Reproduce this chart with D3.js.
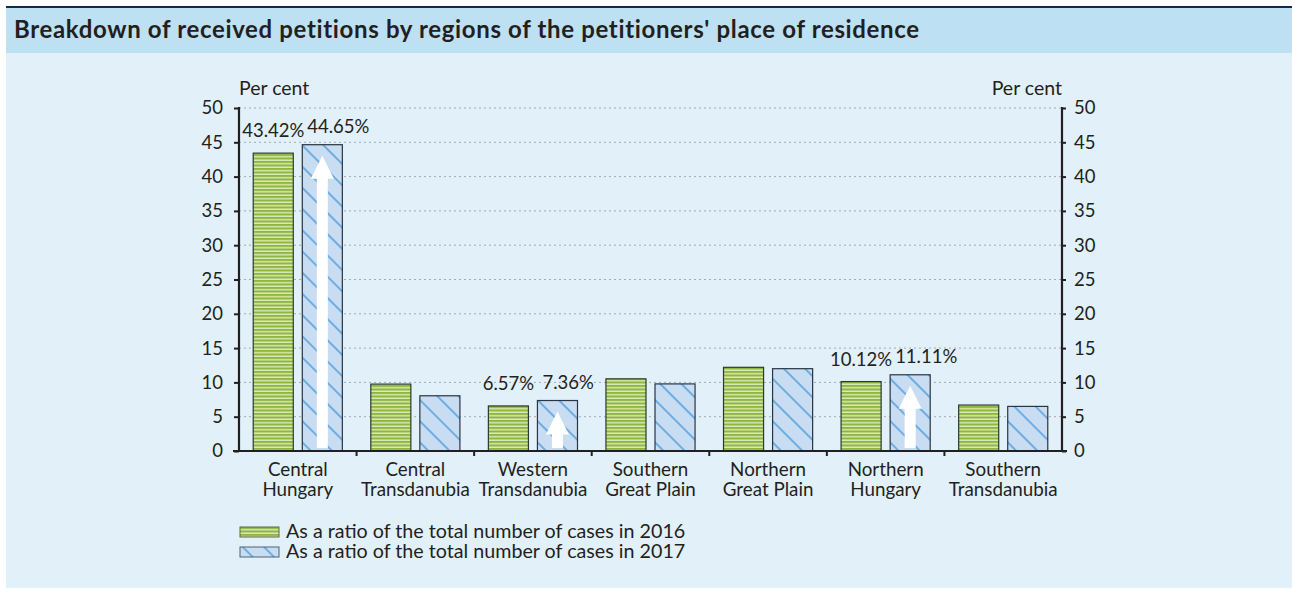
<!DOCTYPE html>
<html>
<head>
<meta charset="utf-8">
<script src="https://cdn.jsdelivr.net/npm/d3@7"></script>
<style>
  body { margin: 0; background: #fff; }
  svg text { font-family: Lato, "Noto Sans", sans-serif; fill: #231f20; }
</style>
</head>
<body>
<div id="chart"></div>
<script>
// DATA
var regions = ["Central Hungary", "Central Transdanubia", "Western Transdanubia",
    "Southern Great Plain", "Northern Great Plain", "Northern Hungary", "Southern Transdanubia"];
var share2016 = [43.42, 9.75, 6.57, 10.52, 12.2, 10.12, 6.7];
var share2017 = [44.65, 8.05, 7.36, 9.78, 12.0, 11.11, 6.5];
// regions where the values are written out and the growth arrow is drawn
var highlighted = ["Central Hungary", "Western Transdanubia", "Northern Hungary"];
var yTicks = [0, 5, 10, 15, 20, 25, 30, 35, 40, 45, 50];
var seriesNames = ["As a ratio of the total number of cases in 2016",
    "As a ratio of the total number of cases in 2017"];

var svgWidth = 1292, svgHeight = 592;
var plot = { left: 239, right: 1062, top: 108, bottom: 451 };

var svg = d3.select("#chart").append("svg")
    .attr("width", svgWidth)
    .attr("height", svgHeight);

// patterns
var defs = svg.append("defs");
var green = defs.append("pattern")
    .attr("id", "greenStripes")
    .attr("patternUnits", "userSpaceOnUse")
    .attr("width", 8).attr("height", 3.5);
green.append("rect").attr("width", 8).attr("height", 3.5).attr("fill", "#dbe9b6");
green.append("rect").attr("width", 8).attr("height", 2).attr("fill", "#8db63f");

var blue = defs.append("pattern")
    .attr("id", "blueHatch")
    .attr("patternUnits", "userSpaceOnUse")
    .attr("width", 15).attr("height", 15)
    .attr("patternTransform", "rotate(-45)");
blue.append("rect").attr("width", 15).attr("height", 15).attr("fill", "#c9ddf2");
blue.append("line").attr("x1", 2).attr("x2", 2).attr("y1", 0).attr("y2", 15)
    .attr("stroke", "#6dade2").attr("stroke-width", 2);

// panel background
svg.append("rect").attr("x", 6).attr("y", 8).attr("width", svgWidth - 6).attr("height", 580)
    .attr("fill", "#e2f0f9");
svg.append("rect").attr("x", 6).attr("y", 8).attr("width", svgWidth - 6).attr("height", 45)
    .attr("fill", "#bde0f2");
svg.append("rect").attr("x", 6).attr("y", 6).attr("width", svgWidth - 6).attr("height", 2)
    .attr("fill", "#0e2a55");
svg.append("text")
    .attr("x", 14).attr("y", 38)
    .attr("font-size", 24).attr("font-weight", "bold")
    .attr("letter-spacing", 0.65)
    .text("Breakdown of received petitions by regions of the petitioners' place of residence");

// scales
var x0 = d3.scaleBand().domain(regions).range([plot.left, plot.right]);
var x1 = d3.scaleBand().domain(["2016", "2017"]).range([0, x0.bandwidth()])
    .paddingInner(9 / 49).paddingOuter(0.29);
var y = d3.scaleLinear().domain([0, 50]).range([plot.bottom, plot.top]);

// grid
svg.append("g").selectAll("line")
    .data(yTicks.filter(d => d > 0))
    .join("line")
    .attr("x1", plot.left).attr("x2", plot.right)
    .attr("y1", d => y(d)).attr("y2", d => y(d))
    .attr("stroke", "#a6a9ad").attr("stroke-width", 1)
    .attr("stroke-dasharray", "2,3");

// axes
var leftAxis = d3.axisLeft(y).tickValues(yTicks).tickSize(5).tickPadding(11);
var rightAxis = d3.axisRight(y).tickValues(yTicks).tickSize(4).tickPadding(8);
var gl = svg.append("g").attr("transform", `translate(${plot.left},0)`).call(leftAxis);
var gr = svg.append("g").attr("transform", `translate(${plot.right},0)`).call(rightAxis);
[gl, gr].forEach(function (g) {
    g.select(".domain").remove();
    g.selectAll(".tick line").attr("stroke", "#231f20").attr("stroke-width", 2);
    g.selectAll(".tick text").attr("font-size", 18.5).attr("font-family", null).attr("fill", "#231f20");
});
svg.append("line").attr("x1", plot.left).attr("x2", plot.left)
    .attr("y1", plot.top - 1).attr("y2", plot.bottom)
    .attr("stroke", "#231f20").attr("stroke-width", 2.2);
svg.append("line").attr("x1", plot.right).attr("x2", plot.right)
    .attr("y1", plot.top - 1).attr("y2", plot.bottom)
    .attr("stroke", "#231f20").attr("stroke-width", 2.2);

svg.append("text").attr("x", plot.left).attr("y", 95).attr("font-size", 19.5).text("Per cent");
svg.append("text").attr("x", plot.right).attr("y", 95).attr("font-size", 19.5)
    .attr("text-anchor", "end").text("Per cent");

// bars
var groups = svg.append("g").selectAll("g")
    .data(regions.map((r, i) => ({ region: r, v2016: share2016[i], v2017: share2017[i] })))
    .join("g")
    .attr("transform", d => `translate(${x0(d.region)},0)`);

groups.append("rect")
    .attr("x", x1("2016")).attr("width", x1.bandwidth())
    .attr("y", d => y(d.v2016)).attr("height", d => y(0) - y(d.v2016))
    .attr("fill", "url(#greenStripes)")
    .attr("stroke", "#2d3a2a").attr("stroke-width", 1.2);
groups.append("rect")
    .attr("x", x1("2017")).attr("width", x1.bandwidth())
    .attr("y", d => y(d.v2017)).attr("height", d => y(0) - y(d.v2017))
    .attr("fill", "url(#blueHatch)")
    .attr("stroke", "#2b3440").attr("stroke-width", 1.2);

// growth arrows
var hl = groups.filter(d => highlighted.indexOf(d.region) >= 0);
hl.append("path")
    .attr("fill", "#fff")
    .attr("d", function (d) {
        var cx = x1("2017") + x1.bandwidth() / 2;
        var tip = y(d.v2017) + 11, base = y(0) - 3;
        var hw = 11.5, sw = 5.5, hh = 23;
        return `M${cx},${tip} L${cx + hw},${tip + hh} L${cx + sw},${tip + hh} L${cx + sw},${base}
                L${cx - sw},${base} L${cx - sw},${tip + hh} L${cx - hw},${tip + hh} Z`;
    });
hl.append("text")
    .attr("x", x1("2016") + x1.bandwidth() / 2)
    .attr("y", d => y(d.v2016) - 16)
    .attr("text-anchor", "middle").attr("font-size", 18.5)
    .text(d => d.v2016.toFixed(2) + "%");
hl.append("text")
    .attr("x", x1("2017") + 5)
    .attr("y", d => y(d.v2017) - 12)
    .attr("font-size", 18.5)
    .text(d => d.v2017.toFixed(2) + "%");

// x axis
svg.append("line").attr("x1", plot.left - 6).attr("x2", plot.right + 5)
    .attr("y1", plot.bottom).attr("y2", plot.bottom)
    .attr("stroke", "#231f20").attr("stroke-width", 2.2);
svg.append("g").selectAll("line")
    .data(regions.slice(1))
    .join("line")
    .attr("x1", d => x0(d)).attr("x2", d => x0(d))
    .attr("y1", plot.bottom).attr("y2", plot.bottom + 5)
    .attr("stroke", "#231f20").attr("stroke-width", 2);

var catLabels = svg.append("g").selectAll("text")
    .data(regions)
    .join("text")
    .attr("x", d => x0(d) + x0.bandwidth() / 2)
    .attr("y", 476)
    .attr("text-anchor", "middle").attr("font-size", 18.8);
catLabels.each(function (d) {
    var cut = d.indexOf(" ");
    var t = d3.select(this);
    t.append("tspan").attr("x", t.attr("x")).text(d.slice(0, cut));
    t.append("tspan").attr("x", t.attr("x")).attr("dy", 19.5).text(d.slice(cut + 1));
});

// legend
var legend = svg.append("g").selectAll("g")
    .data(seriesNames)
    .join("g")
    .attr("transform", (d, i) => `translate(240,${527 + i * 20})`);
legend.append("rect")
    .attr("width", 39).attr("height", 10)
    .attr("fill", (d, i) => i === 0 ? "url(#greenStripes)" : "url(#blueHatch)")
    .attr("stroke", (d, i) => i === 0 ? "#5d6b3a" : "#4f6173").attr("stroke-width", 1);
legend.append("text")
    .attr("x", 46).attr("y", 11)
    .attr("font-size", 19.7)
    .text(d => d);
</script>
</body>
</html>
